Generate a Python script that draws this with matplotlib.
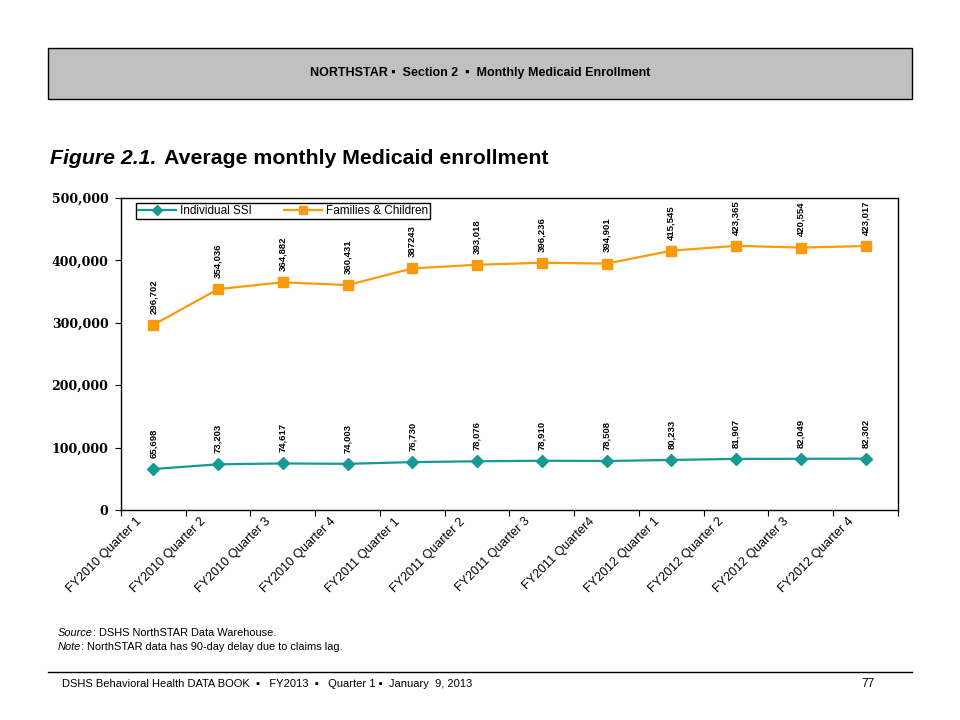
import matplotlib
matplotlib.use("Agg")
import matplotlib.pyplot as plt
from matplotlib.patches import Rectangle
from matplotlib.lines import Line2D
from matplotlib.ticker import FuncFormatter, MultipleLocator

categories = ["FY2010 Quarter 1", "FY2010 Quarter 2", "FY2010 Quarter 3", "FY2010 Quarter 4",
              "FY2011 Quarter 1", "FY2011 Quarter 2", "FY2011 Quarter 3", "FY2011 Quarter4",
              "FY2012 Quarter 1", "FY2012 Quarter 2", "FY2012 Quarter 3", "FY2012 Quarter 4"]
ssi = [65698, 73203, 74617, 74003, 76730, 78076, 78910, 78508, 80233, 81907, 82049, 82302]
ssi_labels = ["65,698", "73,203", "74,617", "74,003", "76,730", "78,076", "78,910", "78,508",
              "80,233", "81,907", "82,049", "82,302"]
fam = [296702, 354036, 364882, 360431, 387243, 393018, 396236, 394901, 415545, 423365, 420554, 423017]
fam_labels = ["296,702", "354,036", "364,882", "360,431", "387243", "393,018", "396,236", "394,901",
              "415,545", "423,365", "420,554", "423,017"]
series_names = ["Individual SSI", "Families & Children"]

SANS = ["Liberation Sans", "DejaVu Sans"]
teal = "#169a96"
orange = "#f99b0c"

fig = plt.figure(figsize=(9.6, 7.2), dpi=100)
W, H = 960, 720

def fx(px):
    return px / W

def fy(py):
    return 1 - py / H

r = fig.canvas.get_renderer()

def two_part(xpx, ypx, a, b, size, style_a=None, weight="normal", gap=0):
    t = fig.text(fx(xpx), fy(ypx), a, ha="left", va="center", fontsize=size,
                 fontweight=weight, fontstyle=style_a or "normal", family=SANS)
    bb = t.get_window_extent(r)
    fig.text(bb.x1 / W + fx(gap), fy(ypx), b, ha="left", va="center", fontsize=size,
             fontweight=weight, family=SANS)

# Header box
fig.patches.append(Rectangle((fx(48), fy(99)), fx(912) - fx(48), fy(48) - fy(99),
                             transform=fig.transFigure, facecolor="#c0c0c0",
                             edgecolor="black", linewidth=1.0))
fig.text(0.5, fy(73), "NORTHSTAR \u25aa  Section 2  \u25aa  Monthly Medicaid Enrollment",
         ha="center", va="center", fontsize=9, fontweight="bold", family=SANS)

# Title
two_part(50, 158, "Figure 2.1.", "Average monthly Medicaid enrollment", 15.3,
         style_a="italic", weight="bold", gap=8)

# Axes
ax = fig.add_axes([fx(121), fy(510), fx(898) - fx(121), fy(198) - fy(510)])
x = list(range(len(categories)))
ax.plot(x, ssi, color=teal, lw=1.6, marker="D", markersize=6, label=series_names[0], zorder=3)
ax.plot(x, fam, color=orange, lw=1.6, marker="s", markersize=7.5, label=series_names[1], zorder=3)

for xi, v, s in zip(x, ssi, ssi_labels):
    ax.annotate(s, (xi, v), xytext=(0, 8), textcoords="offset points", rotation=90,
                ha="center", va="bottom", fontsize=6.8, fontweight="bold", family=SANS)
for xi, v, s in zip(x, fam, fam_labels):
    ax.annotate(s, (xi, v), xytext=(0, 8), textcoords="offset points", rotation=90,
                ha="center", va="bottom", fontsize=6.8, fontweight="bold", family=SANS)

ax.set_xlim(-0.5, len(categories) - 0.5)
ax.set_ylim(0, 500000)
ax.yaxis.set_major_locator(MultipleLocator(100000))
ax.yaxis.set_major_formatter(FuncFormatter(lambda v, p: f"{int(v):,}"))
ax.tick_params(axis="y", direction="out", length=4, width=0.8, pad=5, labelsize=9)
for lab in ax.get_yticklabels():
    lab.set_fontweight("bold")
    lab.set_family("DejaVu Serif")

ax.set_xticks([i - 0.5 for i in range(len(categories) + 1)])
ax.set_xticklabels([])
ax.tick_params(axis="x", direction="out", length=4, width=0.8)
for xi, c in zip(x, categories):
    ax.annotate(c, (xi, 0), xytext=(-13, -4), textcoords="offset points", rotation=45,
                rotation_mode="anchor", ha="right", va="top", fontsize=9, family=SANS,
                annotation_clip=False)

for sp in ax.spines.values():
    sp.set_linewidth(1.0)

leg = ax.legend(loc="upper left", bbox_to_anchor=(fx(136 - 121) / (fx(898) - fx(121)), 0.985),
                ncol=2, frameon=True, fancybox=False, edgecolor="black", framealpha=1,
                prop={"family": SANS, "size": 8.5}, handlelength=3.2, columnspacing=2.8,
                borderpad=0.2, handletextpad=0.3, borderaxespad=0, markerscale=0.8)
leg.get_frame().set_linewidth(1.0)

# Source / Note
two_part(58, 633, "Source", ": DSHS NorthSTAR Data Warehouse.", 7.9, style_a="italic")
two_part(58, 647, "Note", ": NorthSTAR data has 90-day delay due to claims lag.", 7.9, style_a="italic")

# Footer
fig.lines.append(Line2D([fx(48), fx(912)], [fy(672), fy(672)], transform=fig.transFigure,
                        color="black", lw=1.0))
fig.text(fx(62), fy(684), "DSHS Behavioral Health DATA BOOK  \u25aa   FY2013  \u25aa   Quarter 1 \u25aa  January  9, 2013",
         ha="left", va="center", fontsize=8, family=SANS)
fig.text(fx(868), fy(684), "77", ha="center", va="center", fontsize=8.5, family=SANS)

fig.savefig("out.png", dpi=100)
